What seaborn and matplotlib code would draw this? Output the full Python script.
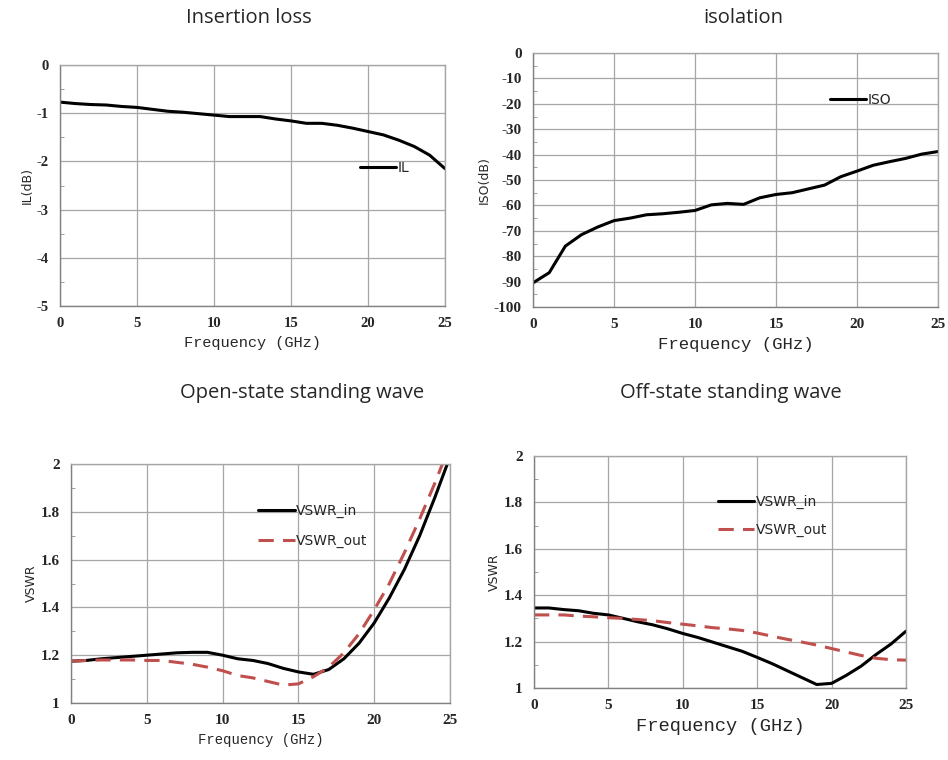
# %% Switch measurement curves: insertion loss, isolation, VSWR
import matplotlib
matplotlib.use('Agg')
import matplotlib.pyplot as plt
import seaborn as sns
import pandas as pd
from matplotlib.ticker import MultipleLocator, FuncFormatter

# %% Data
freq = list(range(26))

il_db = [-0.77, -0.80, -0.82, -0.83, -0.86, -0.88, -0.92, -0.96, -0.98, -1.01,
         -1.04, -1.07, -1.07, -1.07, -1.12, -1.16, -1.21, -1.21, -1.25, -1.31,
         -1.38, -1.45, -1.56, -1.69, -1.87, -2.15]

iso_db = [-90.5, -86.5, -76.0, -71.5, -68.5, -66.0, -65.0, -63.7, -63.3, -62.7,
          -62.0, -59.8, -59.2, -59.6, -57.0, -55.7, -55.0, -53.5, -52.0, -48.7,
          -46.5, -44.2, -42.8, -41.5, -39.8, -38.8]

on_vswr_in = [1.175, 1.178, 1.185, 1.19, 1.195, 1.20, 1.205, 1.21, 1.212, 1.212,
              1.20, 1.185, 1.178, 1.165, 1.145, 1.13, 1.12, 1.14, 1.185, 1.25,
              1.335, 1.44, 1.56, 1.70, 1.86, 2.03]
on_vswr_out = [1.175, 1.178, 1.18, 1.18, 1.18, 1.178, 1.178, 1.17, 1.162, 1.15,
               1.135, 1.115, 1.105, 1.09, 1.075, 1.08, 1.11, 1.15, 1.21, 1.29,
               1.39, 1.50, 1.63, 1.77, 1.92, 2.08]

off_vswr_in = [1.345, 1.345, 1.338, 1.333, 1.322, 1.315, 1.30, 1.285, 1.272, 1.255,
               1.235, 1.218, 1.198, 1.178, 1.158, 1.132, 1.105, 1.075, 1.045, 1.015,
               1.02, 1.055, 1.095, 1.145, 1.19, 1.245]
off_vswr_out = [1.315, 1.315, 1.315, 1.31, 1.307, 1.303, 1.30, 1.295, 1.29, 1.282,
                1.275, 1.268, 1.26, 1.255, 1.248, 1.237, 1.223, 1.21, 1.198, 1.185,
                1.17, 1.155, 1.14, 1.128, 1.122, 1.12]

titles = ['Insertion loss', 'isolation', 'Open-state standing wave', 'Off-state standing wave']

# %% Style
sns.set_style('white')
plt.rcParams['font.family'] = ['DejaVu Sans']
plt.rcParams['axes.unicode_minus'] = False
RED = '#C0504D'
GRID = '#A6A6A6'
SERIF = 'Liberation Serif'
MONO = 'Liberation Mono'

fig = plt.figure(figsize=(9.48, 7.6), dpi=100)

def px_axes(x0, x1, y0, y1):
    # pixel box -> figure fraction axes
    return fig.add_axes([x0 / 948, (760 - y1) / 760, (x1 - x0) / 948, (y1 - y0) / 760])

def plain(v, pos):
    return ('%.1f' % v).rstrip('0').rstrip('.')

def style_axes(ax, ylim, ystep, yminor, ticksize, xlabsize, ylabel):
    ax.set_xlim(0, 25)
    ax.set_ylim(*ylim)
    ax.xaxis.set_major_locator(MultipleLocator(5))
    ax.yaxis.set_major_locator(MultipleLocator(ystep))
    ax.yaxis.set_minor_locator(MultipleLocator(yminor))
    ax.yaxis.set_major_formatter(FuncFormatter(plain))
    ax.grid(True, which='major', color=GRID, lw=0.9)
    for s in ['top', 'right']:
        ax.spines[s].set_color(GRID)
    for s in ['left', 'bottom']:
        ax.spines[s].set_color('#808080')
    for s in ax.spines.values():
        s.set_linewidth(1.0)
    ax.tick_params(axis='both', which='major', length=0, pad=8)
    ax.tick_params(axis='y', which='minor', left=True, direction='in', length=3, color='#909090')
    for lab in ax.get_xticklabels() + ax.get_yticklabels():
        lab.set_fontfamily(SERIF)
        lab.set_fontsize(ticksize)
        lab.set_fontweight('bold')
    ax.set_xlabel('Frequency (GHz)', fontfamily=MONO, fontsize=xlabsize, labelpad=4)
    ax.set_ylabel(ylabel, fontsize=9, labelpad=2)

def leg(ax, x, y, spacing=0.9):
    lg = ax.legend(loc='upper left', bbox_to_anchor=(x, y), frameon=False,
                   handlelength=2.6, handletextpad=0.1, labelspacing=spacing,
                   fontsize=10, borderaxespad=0)
    return lg

# %% Insertion loss
ax1 = px_axes(60, 445, 65, 306)
sns.lineplot(x=freq, y=il_db, ax=ax1, color='black', lw=2.2, label='IL')
style_axes(ax1, (-5, 0), 1, 0.5, 10.5, 11, 'IL(dB)')
leg(ax1, 0.765, 0.625)

# %% Isolation
ax2 = px_axes(533, 938, 53, 307)
sns.lineplot(x=freq, y=iso_db, ax=ax2, color='black', lw=2.2, label='ISO')
style_axes(ax2, (-100, 0), 10, 5, 11, 12.5, 'ISO(dB)')
leg(ax2, 0.72, 0.865)

# %% Open-state VSWR
ax3 = px_axes(71, 450, 464, 703)
df3 = pd.DataFrame({'f': freq, 'in': on_vswr_in, 'out': on_vswr_out})
sns.lineplot(data=df3, x='f', y='in', ax=ax3, color='black', lw=2.2, label='VSWR_in')
sns.lineplot(data=df3, x='f', y='out', ax=ax3, color=RED, lw=2.2, label='VSWR_out',
             dashes=False, linestyle=(0, (5, 3)))
style_axes(ax3, (1, 2), 0.2, 0.1, 11, 10, 'VSWR')
leg(ax3, 0.48, 0.855, spacing=1.1)

# %% Off-state VSWR
ax4 = px_axes(534, 906, 456, 688)
df4 = pd.DataFrame({'f': freq, 'in': off_vswr_in, 'out': off_vswr_out})
sns.lineplot(data=df4, x='f', y='in', ax=ax4, color='black', lw=2.2, label='VSWR_in')
sns.lineplot(data=df4, x='f', y='out', ax=ax4, color=RED, lw=2.2, label='VSWR_out',
             dashes=False, linestyle=(0, (5, 3)))
style_axes(ax4, (1, 2), 0.2, 0.1, 11, 13.5, 'VSWR')
leg(ax4, 0.48, 0.855, spacing=1.0)

for ax in (ax1, ax2, ax3, ax4):
    for line in ax.get_lines():
        line.set_clip_on(True)

# %% Titles
title_pos = [(249, 18), (743, 18), (302, 393), (731, 393)]
for t, (x, y) in zip(titles, title_pos):
    fig.text(x / 948, 1 - y / 760, t, ha='center', va='center', fontsize=14.5,
             fontfamily='Open Sans')

plt.savefig('out.png', dpi=100)
